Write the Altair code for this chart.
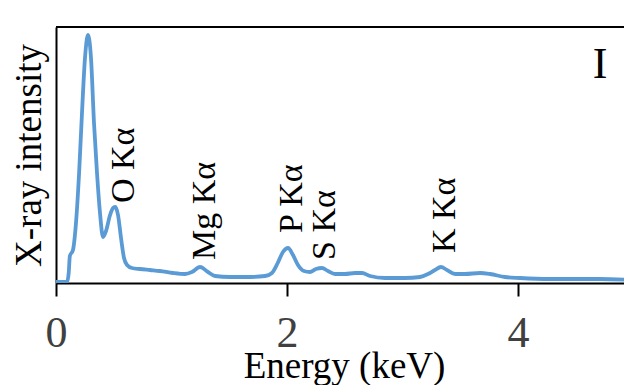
import altair as alt
import pandas as pd

# Spectrum trace (energy in keV, intensity in arbitrary units)
energy = [0.0, 0.05, 0.095, 0.11, 0.12, 0.147, 0.173, 0.2, 0.225, 0.251, 0.277, 0.303,
          0.329, 0.355, 0.381, 0.407, 0.433, 0.468, 0.494, 0.515, 0.537, 0.563, 0.589,
          0.615, 0.658, 0.727, 0.814, 0.9, 1.013, 1.117, 1.177, 1.247, 1.316, 1.377,
          1.506, 1.68, 1.81, 1.87, 1.92, 1.965, 2.009, 2.052, 2.095, 2.147, 2.199,
          2.251, 2.303, 2.355, 2.416, 2.502, 2.589, 2.65, 2.719, 2.848, 3.022, 3.152,
          3.221, 3.281, 3.333, 3.385, 3.455, 3.541, 3.671, 3.758, 3.887, 4.017, 4.277,
          4.71, 4.987]
intensity = [1, 1, 1, 10, 27, 33, 60, 110, 170, 225, 248, 225,
             160, 110, 70, 46, 52, 68, 75, 76, 68, 45, 25,
             18, 15, 14, 13, 12, 10, 9, 11, 16, 11, 7,
             6, 6, 7, 10, 20, 31, 35, 28, 18, 12, 11,
             14, 15, 12, 9, 9, 10, 10, 7, 5, 5, 6,
             9, 13, 16, 13, 9, 9, 10, 9, 6, 5, 4,
             4, 3]

# Peak labels
peak_labels = ["O Kα", "Mg Kα", "P Kα", "S Kα", "K Kα"]
peak_x = [0.593, 1.29, 2.04, 2.33, 3.37]
peak_y = [80, 23, 50, 23, 30]

panel_label = ["I"]
panel_x = [4.71]
panel_y = [205]

x_ticks = [0, 2, 4]
x_max = 4.918
y_max = 256

W, H = 568, 256
FONT = "Liberation Serif"

spec = pd.DataFrame({"e": energy, "i": intensity})
peaks = pd.DataFrame({"e": peak_x, "i": peak_y, "t": peak_labels})
panel = pd.DataFrame({"e": panel_x, "i": panel_y, "t": panel_label})

xscale = alt.Scale(domain=[0, x_max], nice=False, zero=False)
yscale = alt.Scale(domain=[0, y_max], nice=False)

line = alt.Chart(spec).mark_line(
    color="#5B9BD5", strokeWidth=3.8, interpolate="monotone", clip=True
).encode(
    x=alt.X("e:Q", scale=xscale, axis=alt.Axis(
        values=x_ticks, title="Energy (keV)", grid=False, format="d",
        domainColor="black", domainWidth=2, tickColor="black", tickWidth=2,
        tickSize=13, labelFont=FONT, labelFontSize=44, labelColor="#404040",
        labelBaseline="alphabetic", labelPadding=50, labelFlush=False,
        titleFont=FONT, titleFontSize=37, titleFontWeight="normal",
        titleColor="black", titleBaseline="alphabetic", titleX=288, titleY=94)),
    y=alt.Y("i:Q", scale=yscale, axis=alt.Axis(
        title="X-ray intensity", labels=False, ticks=False, grid=False,
        domainColor="black", domainWidth=2, titleFont=FONT, titleFontSize=37,
        titleFontWeight="normal", titleColor="black", titleBaseline="alphabetic",
        titleX=-16, titleY=H / 2)),
)

top_border = alt.Chart(pd.DataFrame({"a": [0]})).mark_rule(
    color="black", strokeWidth=2
).encode(x=alt.value(0), x2=alt.value(W), y=alt.value(0))

labels = alt.Chart(peaks).mark_text(
    angle=270, align="left", baseline="middle", font=FONT, fontSize=34, color="black"
).encode(x=alt.X("e:Q", scale=xscale), y=alt.Y("i:Q", scale=yscale), text="t:N")

panel_text = alt.Chart(panel).mark_text(
    align="center", baseline="alphabetic", font=FONT, fontSize=44, color="black"
).encode(x=alt.X("e:Q", scale=xscale), y=alt.Y("i:Q", scale=yscale), text="t:N")

chart = alt.layer(line, top_border, labels, panel_text).properties(
    width=W, height=H,
    autosize=alt.AutoSizeParams(type="none"),
    padding={"left": 48, "top": 19, "right": 0, "bottom": 102},
).configure_view(stroke=None)

chart.save("out.html", embed_options={"renderer": "svg", "actions": False})
